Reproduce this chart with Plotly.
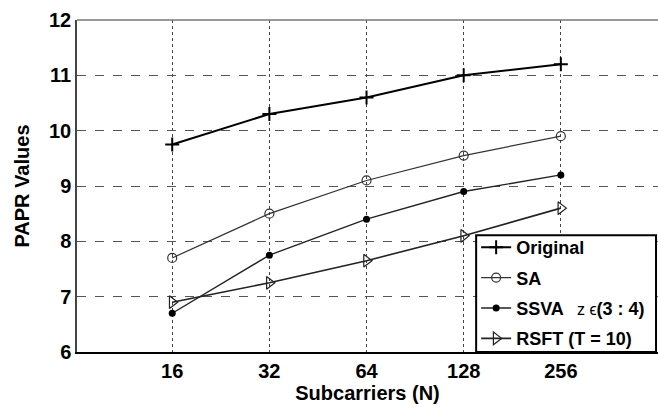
import plotly.graph_objects as go

categories = ["16", "32", "64", "128", "256"]
original = [9.75, 10.3, 10.6, 11.0, 11.2]
sa = [7.7, 8.5, 9.1, 9.55, 9.9]
ssva = [6.7, 7.75, 8.4, 8.9, 9.2]
rsft = [6.9, 7.25, 7.65, 8.1, 8.6]
y_ticks = [6, 7, 8, 9, 10, 11, 12]

xpos = list(range(len(categories)))
fig = go.Figure()
fig.add_trace(go.Scatter(x=xpos, y=original, name="Original", mode="lines+markers", legendgroup="a",
                         line=dict(color="black", width=2),
                         marker=dict(symbol="cross-thin", size=10, line=dict(color="black", width=2))))
fig.add_trace(go.Scatter(x=xpos, y=sa, name="SA", mode="lines+markers", legendgroup="b",
                         line=dict(color="#333333", width=1.2),
                         marker=dict(symbol="circle-open", size=9, line=dict(color="#333333", width=1.2))))
fig.add_trace(go.Scatter(x=xpos, y=ssva, legendgroup="c",
                         name="SSVA <span style='font-size:16px;font-weight:normal'>  z ϵ</span>(3 : 4)",
                         mode="lines+markers",
                         line=dict(color="#222222", width=1.4),
                         marker=dict(symbol="circle", size=7, color="black")))
fig.add_trace(go.Scatter(x=xpos, y=rsft, name="RSFT (T = 10)", mode="lines+markers", legendgroup="d",
                         line=dict(color="#222222", width=1.6),
                         marker=dict(symbol="triangle-right-open", size=11, line=dict(color="#444444", width=1.2))))

# top border of the axes box
fig.add_shape(type="line", xref="paper", yref="paper", x0=0, x1=1, y0=1, y1=1,
              line=dict(color="#777777", width=1.5))
# legend frame
fig.add_shape(type="rect", xref="paper", yref="paper", x0=0.687, x1=0.9966, y0=0.0, y1=0.352,
              line=dict(color="black", width=2), fillcolor="white", layer="above")

fig.update_layout(
    width=658, height=411,
    margin=dict(l=77, r=0, t=20, b=59, autoexpand=False),
    paper_bgcolor="white", plot_bgcolor="white",
    font=dict(family="Liberation Sans, Arial, sans-serif", color="black"),
    showlegend=True,
    legend=dict(x=0.687, y=0.3705, xanchor="left", yanchor="top",
                borderwidth=0, bgcolor="rgba(0,0,0,0)",
                font=dict(size=18, family="Liberation Sans, Arial, sans-serif", weight="bold"),
                itemwidth=30, tracegroupgap=4),
)
fig.update_xaxes(
    range=[-0.98, 5.0], tickmode="array", tickvals=xpos, ticktext=categories,
    showgrid=True, gridcolor="#444444", griddash="dot", gridwidth=1,
    showline=True, linecolor="black", linewidth=1.5, zeroline=False,
    ticks="", tickfont=dict(size=20, weight="bold"), automargin=False,
    title=dict(text="Subcarriers (N)", font=dict(size=20, weight="bold"), standoff=2),
)
fig.update_yaxes(
    range=[6, 12], tickmode="array", tickvals=y_ticks,
    showgrid=True, gridcolor="#555555", griddash="dash", gridwidth=1,
    showline=True, linecolor="#444444", linewidth=1.5, zeroline=False,
    ticks="", tickfont=dict(size=20, weight="bold"), automargin=False,
    title=dict(text="PAPR Values", font=dict(size=20, weight="bold"), standoff=14),
)
fig.write_html("out.html", config={"displayModeBar": False},
               post_script="document.body.style.margin='0px';document.body.style.overflow='hidden';")
